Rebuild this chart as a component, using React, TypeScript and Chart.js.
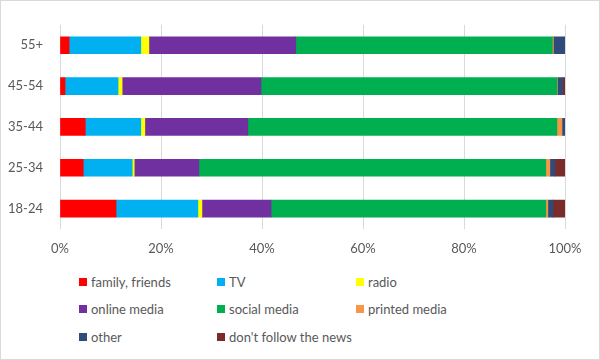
import React, { useEffect, useRef } from "react";
import { Chart, registerables } from "chart.js";

Chart.register(...registerables);

const ageGroups = ["55+", "45-54", "35-44", "25-34", "18-24"];
const familyFriends = [1.8, 1.0, 5.0, 4.6, 11.1];
const tv = [14.2, 10.5, 11.0, 9.7, 16.2];
const radio = [1.6, 0.8, 0.8, 0.4, 0.8];
const onlineMedia = [29.1, 27.5, 20.4, 12.8, 13.7];
const socialMedia = [50.8, 58.6, 61.2, 68.7, 54.4];
const printedMedia = [0.2, 0.1, 1.0, 0.8, 0.4];
const other = [2.3, 1.0, 0.6, 1.0, 1.0];
const dontFollow = [0.0, 0.5, 0.0, 2.0, 2.4];
const xTicks = [0, 20, 40, 60, 80, 100];

const seriesNames = [
  "family, friends",
  "TV",
  "radio",
  "online media",
  "social media",
  "printed media",
  "other",
  "don't follow the news",
];
const seriesColors = [
  "#FF0000",
  "#00B0F0",
  "#FFFF00",
  "#7030A0",
  "#00B050",
  "#F79646",
  "#2E4B7C",
  "#7B2C2A",
];
const seriesData = [familyFriends, tv, radio, onlineMedia, socialMedia, printedMedia, other, dontFollow];

const FONT = "Lato, 'Liberation Sans', sans-serif";
const TEXT = "#595959";

export default function App() {
  const ref = useRef<HTMLCanvasElement | null>(null);

  useEffect(() => {
    document.body.style.margin = "0";
    if (!ref.current) return;
    const chart = new Chart(ref.current, {
      type: "bar",
      data: {
        labels: ageGroups,
        datasets: seriesNames.map((name, i) => ({
          label: name,
          data: seriesData[i],
          backgroundColor: seriesColors[i],
          borderWidth: 0,
          barThickness: 17,
        })),
      },
      options: {
        indexAxis: "y",
        animation: false,
        responsive: false,
        maintainAspectRatio: false,
        layout: { padding: { top: 17, right: 35, left: 0, bottom: 0 } },
        plugins: { legend: { display: false }, tooltip: { enabled: false } },
        scales: {
          x: {
            stacked: true,
            min: 0,
            max: 100,
            afterFit: (axis: any) => {
              axis.height = 36;
            },
            afterBuildTicks: (axis: any) => {
              axis.ticks = xTicks.map((v) => ({ value: v }));
            },
            grid: { color: "#D9D9D9", drawTicks: false, lineWidth: 1 },
            border: { display: false },
            ticks: {
              padding: 12,
              color: TEXT,
              font: { family: FONT, size: 13 },
              callback: (v: any) => v + "%",
            },
          },
          y: {
            stacked: true,
            afterFit: (axis: any) => {
              axis.width = 60;
            },
            grid: { display: false, drawTicks: false },
            border: { display: false },
            ticks: {
              padding: 17,
              color: TEXT,
              font: { family: FONT, size: 13 },
            },
          },
        },
      },
    });
    return () => chart.destroy();
  }, []);

  const colX = [79, 217, 356];
  const rowY = [282, 309, 337];

  return (
    <div style={{ position: "relative", width: 600, height: 360, background: "#fff", fontFamily: FONT }}>
      <canvas ref={ref} width={600} height={265} style={{ position: "absolute", left: 0, top: 0 }} />
      {seriesNames.map((name, i) => {
        const col = i % 3;
        const row = Math.floor(i / 3);
        return (
          <div
            key={name}
            style={{
              position: "absolute",
              left: colX[col],
              top: rowY[row] - 9,
              height: 18,
              display: "flex",
              alignItems: "center",
              whiteSpace: "nowrap",
              fontSize: 13,
              color: TEXT,
            }}
          >
            <span style={{ display: "inline-block", width: 8, height: 8, background: seriesColors[i], marginRight: 4 }} />
            <span>{name}</span>
          </div>
        );
      })}
      <div
        style={{
          position: "absolute",
          left: 0,
          top: 0,
          width: 600,
          height: 360,
          boxSizing: "border-box",
          border: "1px solid #D9D9D9",
          pointerEvents: "none",
        }}
      />
    </div>
  );
}
